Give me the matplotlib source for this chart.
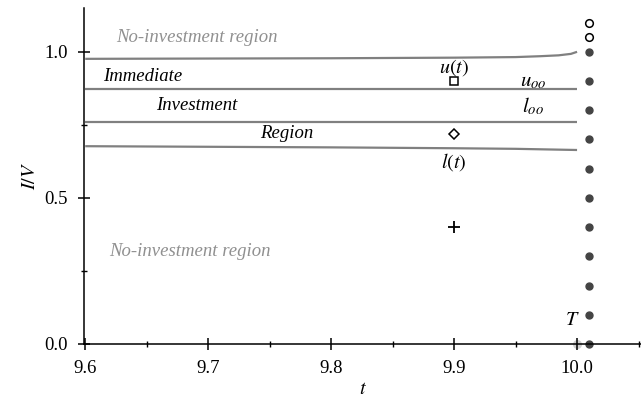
import matplotlib
matplotlib.use('Agg')
import matplotlib.pyplot as plt
import numpy as np
from matplotlib.ticker import MultipleLocator

plt.rcParams['font.family'] = ['Liberation Serif', 'DejaVu Serif']
plt.rcParams['mathtext.fontset'] = 'stix'
plt.rcParams['font.size'] = 13.5

# boundary curves of the investment region
t_upper = [9.6, 9.7, 9.8, 9.9, 9.95, 9.97, 9.985, 9.995, 10.0]
upper = [0.976, 0.977, 0.978, 0.980, 0.982, 0.985, 0.988, 0.993, 1.0]
t_lower = [9.6, 9.7, 9.8, 9.9, 9.95, 10.0]
lower = [0.677, 0.675, 0.673, 0.670, 0.668, 0.664]
t_flat = [9.6, 10.0]
u_oo = 0.872
l_oo = 0.761

# sample points
t_probe = 9.9
square_y = 0.90
diamond_y = 0.72
plus_y = 0.40

# terminal column at maturity
t_col = 10.01
filled_y = [1.0, 0.9, 0.8, 0.7, 0.6, 0.5, 0.4, 0.3, 0.2, 0.1, 0.0]
open_y = [1.05, 1.10]
T = 10.0

fig = plt.figure(figsize=(6.41, 4.0), dpi=100)
ax = fig.add_axes([84 / 641, 56 / 400, 557 / 641, 336 / 400])

line_kw = dict(color='#808080', lw=1.6, solid_capstyle='butt')
ax.plot(t_upper, upper, **line_kw)
ax.plot(t_flat, [u_oo, u_oo], **line_kw)
ax.plot(t_flat, [l_oo, l_oo], **line_kw)
ax.plot(t_lower, lower, **line_kw)

ax.plot([t_probe], [square_y], 's', ms=6, mfc='white', mec='black', mew=1.1)
ax.plot([t_probe], [diamond_y], 'D', ms=5, mfc='white', mec='black', mew=1.1)
ax.plot([t_probe], [plus_y], '+', ms=9, color='black', mew=1.3)

ax.plot([t_col] * len(filled_y), filled_y, 'o', ms=5, color='#444444', clip_on=False)
ax.plot([t_col] * len(open_y), open_y, 'o', ms=5.5, mfc='white', mec='black', mew=1.1,
        clip_on=False)
ax.plot([T], [0.0], 'o', ms=5.5, color='#d0d0d0', clip_on=False, zorder=1)

gray_txt = '#909090'
ax.text(9.691, 1.048, 'No-investment region', color=gray_txt, style='italic',
        ha='center', va='center')
ax.text(9.685, 0.316, 'No-investment region', color=gray_txt, style='italic',
        ha='center', va='center')
ax.text(9.647, 0.915, 'Immediate', style='italic', ha='center', va='center')
ax.text(9.691, 0.815, 'Investment', style='italic', ha='center', va='center')
ax.text(9.764, 0.719, 'Region', style='italic', ha='center', va='center')
ax.text(t_probe, 0.945, '$u(t)$', ha='center', va='center', fontsize=14.5)
ax.text(t_probe, 0.624, '$l(t)$', ha='center', va='center', fontsize=14.5)
ax.text(9.964, 0.898, '$u_{oo}$', ha='center', va='center', fontsize=15)
ax.text(9.964, 0.812, '$l_{oo}$', ha='center', va='center', fontsize=15)
ax.text(9.996, 0.082, '$T$', ha='center', va='center', fontsize=14.5)

ax.set_xlim(9.599, 10.052)
ax.set_ylim(0.0, 1.15)
ax.set_xlabel('$t$', fontsize=14.5, labelpad=2)
ax.set_ylabel('$I/V$', fontsize=14.5, labelpad=3)

ax.xaxis.set_major_locator(MultipleLocator(0.1))
ax.xaxis.set_minor_locator(MultipleLocator(0.05))
ax.yaxis.set_major_locator(MultipleLocator(0.5))
ax.yaxis.set_minor_locator(MultipleLocator(0.25))
ax.xaxis.set_major_formatter(plt.FuncFormatter(lambda v, p: f'{v:.1f}'))
ax.tick_params(which='major', direction='inout', length=9, width=1.1, pad=7)
ax.tick_params(which='minor', direction='inout', length=4.5, width=1.0)
ax.spines['top'].set_visible(False)
ax.spines['right'].set_visible(False)
for s in ('left', 'bottom'):
    ax.spines[s].set_linewidth(1.1)

fig.savefig('out.png', dpi=100)
